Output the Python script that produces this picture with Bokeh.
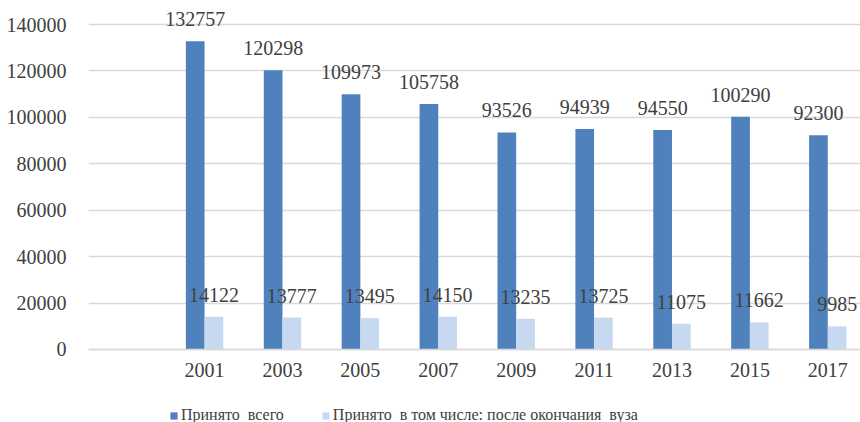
from bokeh.plotting import figure
from bokeh.models import (Range1d, FixedTicker, Legend, LegendItem, ColumnDataSource,
                          NumeralTickFormatter, LabelSet)
from bokeh.embed import file_html
from bokeh.resources import INLINE

# Admissions by year
years = ["2001", "2003", "2005", "2007", "2009", "2011", "2013", "2015", "2017"]
total = [132757, 120298, 109973, 105758, 93526, 94939, 94550, 100290, 92300]
after_university = [14122, 13777, 13495, 14150, 13235, 13725, 11075, 11662, 9985]
series_names = ["Принято  всего", "Принято  в том числе: после окончания  вуза"]
y_ticks = [0, 20000, 40000, 60000, 80000, 100000, 120000, 140000]

FONT = "'Liberation Serif', 'Times New Roman', serif"
TEXT = "#404040"
DARK = "#4F81BD"
LIGHT = "#C6D9F0"
GRID = "#D9D9D9"

# one empty slot before the first year, then one slot per year
pos = [i + 1 for i in range(len(years))]
shift = 0.12
src = ColumnDataSource(dict(
    x_total=[p_ - shift for p_ in pos],
    x_after=[p_ + shift for p_ in pos],
    total=total,
    after=after_university,
    total_lbl=[str(v) for v in total],
    after_lbl=[str(v) for v in after_university],
))

p = figure(width=860, height=422, output_backend="svg", toolbar_location=None,
           x_range=Range1d(-0.49, 9.42), y_range=Range1d(-31450, 150340),
           min_border_left=88, min_border_right=0, min_border_top=0, min_border_bottom=0)
p.outline_line_color = None
p.background_fill_color = "white"
p.border_fill_color = "white"

r1 = p.vbar(x="x_total", top="total", bottom=0, width=0.24, source=src,
            fill_color=DARK, line_color=None)
r2 = p.vbar(x="x_after", top="after", bottom=0, width=0.24, source=src,
            fill_color=LIGHT, line_color=None)

# value labels above each bar
for xcol, ycol, tcol in (("x_total", "total", "total_lbl"), ("x_after", "after", "after_lbl")):
    p.add_layout(LabelSet(x=xcol, y=ycol, text=tcol, source=src,
                          text_font=FONT, text_font_size="20px", text_color=TEXT,
                          text_align="center", text_baseline="alphabetic", y_offset=15))

# y axis
p.yaxis.ticker = FixedTicker(ticks=y_ticks)
p.yaxis.formatter = NumeralTickFormatter(format="0")
p.yaxis.axis_line_color = None
p.yaxis.major_tick_line_color = None
p.yaxis.minor_tick_line_color = None
p.yaxis.major_label_standoff = 16
p.yaxis.major_label_text_font = FONT
p.yaxis.major_label_text_font_size = "20px"
p.yaxis.major_label_text_color = TEXT
p.ygrid.ticker = FixedTicker(ticks=y_ticks)
p.ygrid.grid_line_color = GRID
p.ygrid.grid_line_width = 1.5
p.xgrid.grid_line_color = None

# x axis sits on the zero line
p.xaxis.fixed_location = 0
p.xaxis.ticker = FixedTicker(ticks=pos)
p.xaxis.major_label_overrides = {p_: y for p_, y in zip(pos, years)}
p.xaxis.axis_line_color = GRID
p.xaxis.axis_line_width = 1.5
p.xaxis.major_tick_line_color = None
p.xaxis.minor_tick_line_color = None
p.xaxis.major_label_standoff = 8
p.xaxis.major_label_text_font = FONT
p.xaxis.major_label_text_font_size = "20px"
p.xaxis.major_label_text_color = TEXT

legend = Legend(items=[LegendItem(label=series_names[0], renderers=[r1]),
                       LegendItem(label=series_names[1], renderers=[r2])],
                orientation="horizontal", location=(81, -2),
                glyph_width=9, glyph_height=9, label_standoff=3, spacing=37,
                padding=0, margin=0, border_line_color=None, background_fill_alpha=0,
                label_text_font=FONT, label_text_font_size="16px", label_text_color=TEXT)
p.add_layout(legend)

open("out.html", "w").write(file_html(p, INLINE))
